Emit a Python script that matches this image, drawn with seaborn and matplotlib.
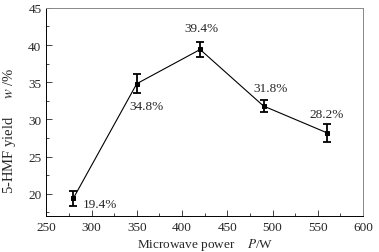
import matplotlib
matplotlib.use("Agg")
import matplotlib.pyplot as plt
import seaborn as sns
import pandas as pd
from matplotlib.ticker import MultipleLocator

power = [280, 350, 420, 490, 560]
yield_ = [19.4, 34.8, 39.4, 31.8, 28.2]
err = [1.0, 1.3, 1.0, 0.8, 1.2]
labels = ["19.4%", "34.8%", "39.4%", "31.8%", "28.2%"]

sns.set_theme(style="ticks")
plt.rcParams['font.family'] = ['Liberation Serif', 'DejaVu Serif']
plt.rcParams['mathtext.fontset'] = 'stix'

df = pd.DataFrame({"power": power, "yield": yield_})
fig, ax = plt.subplots(figsize=(3.79, 2.53), dpi=100)
sns.lineplot(data=df, x="power", y="yield", ax=ax, color="black", lw=0.8,
             marker="s", markersize=2.5, markeredgecolor="black")
ax.errorbar(power, yield_, yerr=err, fmt="none", ecolor="black",
            elinewidth=1.3, capsize=3, capthick=1.3)

# (dx, dy) offsets in points from the data point
offsets = [(7, -4, "left", "center"), (-5, -12, "left", "top"),
           (1, 11, "center", "bottom"), (-7, 9, "left", "bottom"),
           (0, 9, "center", "bottom")]
for x, y, t, (dx, dy, ha, va) in zip(power, yield_, labels, offsets):
    ax.annotate(t, (x, y), xytext=(dx, dy), textcoords="offset points",
                ha=ha, va=va, fontsize=9.5)

ax.set_xlim(250, 600)
ax.set_ylim(17, 45)
ax.xaxis.set_major_locator(MultipleLocator(50))
ax.xaxis.set_minor_locator(MultipleLocator(25))
ax.yaxis.set_major_locator(MultipleLocator(5))
ax.yaxis.set_minor_locator(MultipleLocator(2.5))
ax.tick_params(which="both", direction="in", labelsize=9.5, width=0.6)
ax.tick_params(which="major", length=4)
ax.tick_params(which="minor", length=2)
for s in ["top", "right"]:
    ax.spines[s].set_color("#888888")
for s in ["left", "bottom"]:
    ax.spines[s].set_color("black")
for s in ax.spines.values():
    s.set_linewidth(0.7)
ax.set_xlabel(r"Microwave power    $P$/W", fontsize=9.5, labelpad=2)
ax.set_ylabel(r"5-HMF yield     $w$ /%", fontsize=10.5, labelpad=2)
ax.yaxis.set_label_coords(-0.088, 0.415)

fig.subplots_adjust(left=0.122, right=0.958, top=0.965, bottom=0.142)
fig.savefig("out.png", dpi=100)
